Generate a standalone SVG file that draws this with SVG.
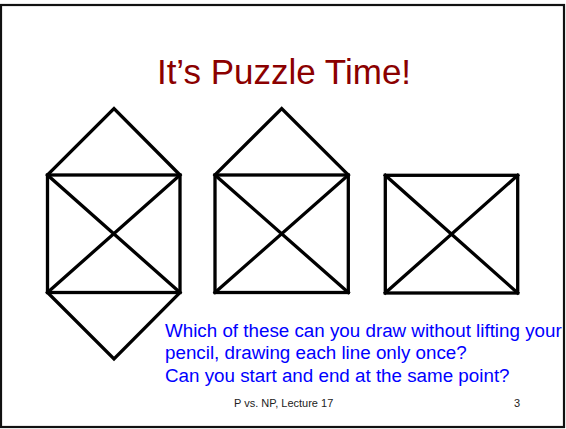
<svg xmlns="http://www.w3.org/2000/svg" width="566" height="429" viewBox="0 0 566 429">
<style>
.fig{fill:none;stroke:#000;stroke-width:3.3;stroke-linejoin:miter;stroke-linecap:square}
.title{font-family:"Liberation Sans",Arial,sans-serif;font-size:35px;fill:#8b0000}
.q{font-family:"Liberation Sans",Arial,sans-serif;font-size:18.8px;fill:#0000ff}
.foot{font-family:"Liberation Sans",Arial,sans-serif;font-size:11px;fill:#222}
</style>
<rect x="0" y="0" width="566" height="429" fill="#fff"/>
<rect x="1" y="5" width="563" height="422" fill="none" stroke="#111" stroke-width="2.2"/>
<text class="title" x="284" y="83.5" text-anchor="middle">It’s Puzzle Time!</text>
<g id="figure1">
<rect class="fig" x="47.5" y="175" width="132.5" height="117.5"/>
<path class="fig" d="M47.5 175 L180 292.5 M180 175 L47.5 292.5 M47.5 175 L114 108.5 L180 175 M47.5 292.5 L114 359 L180 292.5"/>
</g>
<g id="figure2">
<rect class="fig" x="215" y="175" width="133.3" height="117.5"/>
<path class="fig" d="M215 175 L348.3 292.5 M348.3 175 L215 292.5 M215 175 L281.7 108.5 L348.3 175"/>
</g>
<g id="figure3">
<rect class="fig" x="385.3" y="175.3" width="132.4" height="117.7"/>
<path class="fig" d="M385.3 175.3 L517.7 293 M517.7 175.3 L385.3 293"/>
</g>
<text class="q" x="165" y="336.7">Which of these can you draw without lifting your</text>
<text class="q" x="165" y="359">pencil, drawing each line only once?</text>
<text class="q" x="165" y="381.7">Can you start and end at the same point?</text>
<text class="foot" x="234" y="406.5">P vs. NP, Lecture 17</text>
<text class="foot" x="514" y="406.5">3</text>
</svg>
